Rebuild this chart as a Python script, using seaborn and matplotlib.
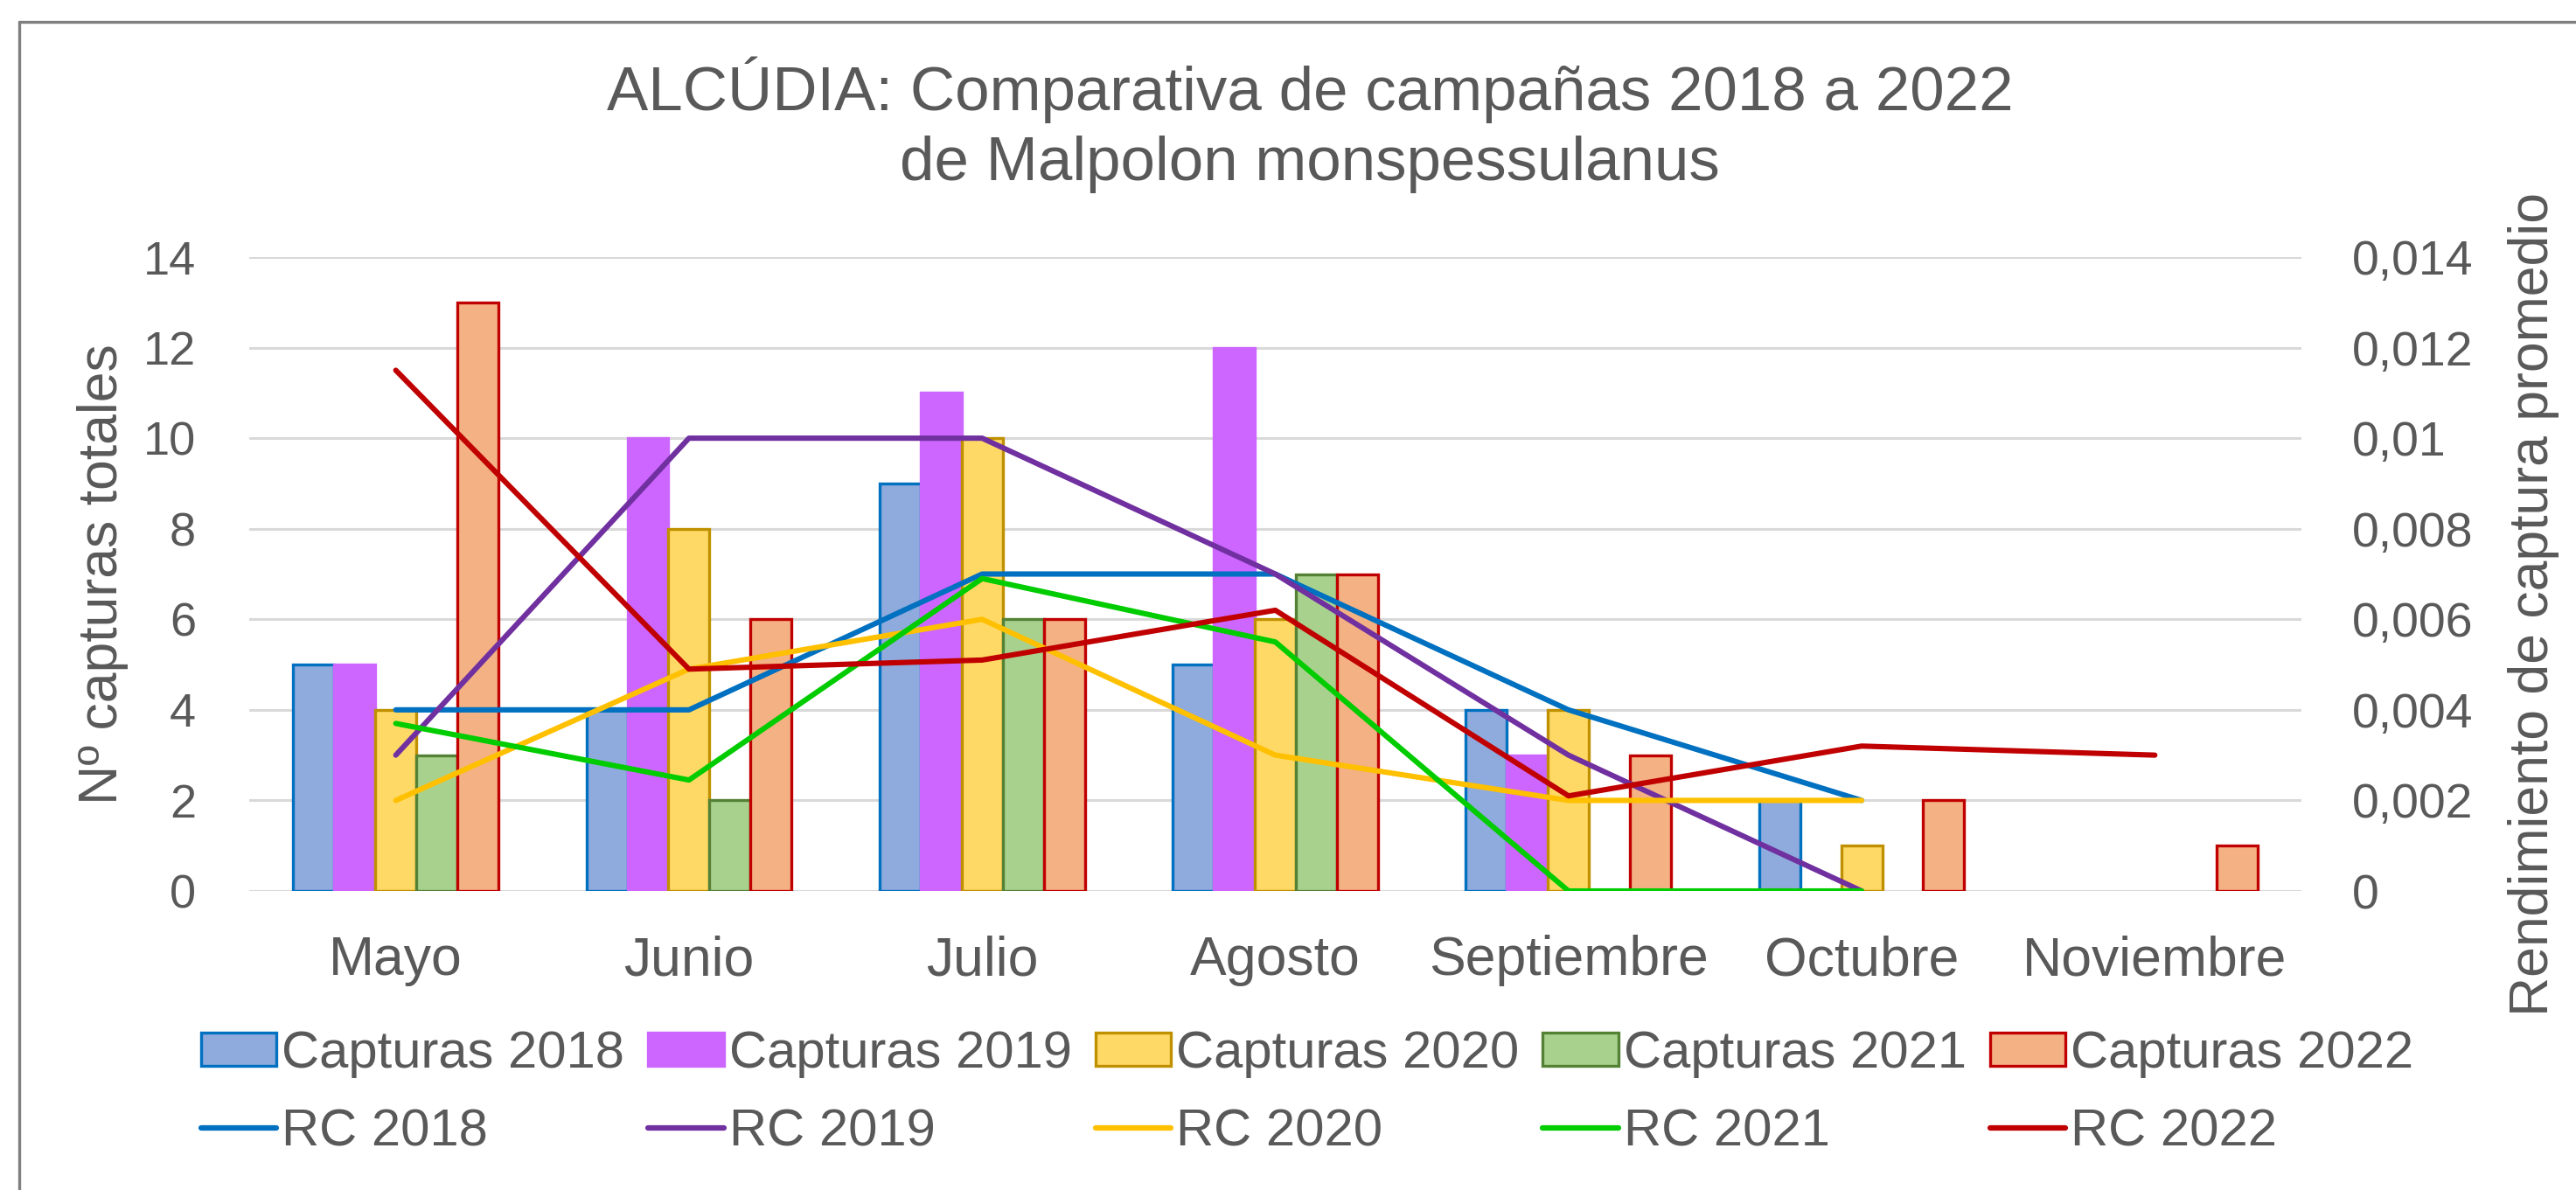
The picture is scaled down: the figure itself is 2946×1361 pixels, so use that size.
import numpy as np
import pandas as pd
import matplotlib
matplotlib.use("Agg")
import matplotlib.pyplot as plt
from matplotlib.patches import Patch
from matplotlib.lines import Line2D
import seaborn as sns

# ---------------- data ----------------
months = ["Mayo", "Junio", "Julio", "Agosto", "Septiembre", "Octubre", "Noviembre"]
years = ["2018", "2019", "2020", "2021", "2022"]

capt_2018 = [5, 4, 9, 5, 4, 2, np.nan]
capt_2019 = [5, 10, 11, 12, 3, np.nan, np.nan]
capt_2020 = [4, 8, 10, 6, 4, 1, np.nan]
capt_2021 = [3, 2, 6, 7, np.nan, np.nan, np.nan]
capt_2022 = [13, 6, 6, 7, 3, 2, 1]

rc_2018 = [0.004, 0.004, 0.007, 0.007, 0.004, 0.002, np.nan]
rc_2019 = [0.003, 0.010, 0.010, 0.007, 0.003, 0.0, np.nan]
rc_2020 = [0.002, 0.0049, 0.006, 0.003, 0.002, 0.002, np.nan]
rc_2021 = [0.0037, 0.00245, 0.0069, 0.0055, 0.0, 0.0, np.nan]
rc_2022 = [0.0115, 0.0049, 0.0051, 0.0062, 0.0021, 0.0032, 0.0030]

left_ticks = [0, 2, 4, 6, 8, 10, 12, 14]
right_ticks = [0, 0.002, 0.004, 0.006, 0.008, 0.010, 0.012, 0.014]
right_tick_labels = ["0", "0,002", "0,004", "0,006", "0,008", "0,01", "0,012", "0,014"]

title_line1 = "ALCÚDIA: Comparativa de campañas 2018 a 2022"
title_line2 = "de Malpolon monspessulanus"
ylabel_left = "Nº capturas totales"
ylabel_right = "Rendimiento de captura promedio"

# ---------------- styles ----------------
bar_fill = ["#8FAADC", "#CC66FF", "#FFD966", "#A9D18E", "#F4B183"]
bar_edge = ["#0070C0", "#CC66FF", "#BF9000", "#548235", "#C00000"]
line_col = ["#0070C0", "#7030A0", "#FFC000", "#00CC00", "#C00000"]
text_col = "#595959"
grid_col = "#D9D9D9"

sns.set_style("white")
plt.rcParams["font.family"] = ["Liberation Sans", "DejaVu Sans"]

capt = [capt_2018, capt_2019, capt_2020, capt_2021, capt_2022]
rcs = [rc_2018, rc_2019, rc_2020, rc_2021, rc_2022]

bar_rows = []
for y, vals in zip(years, capt):
    for m, v in zip(months, vals):
        if not np.isnan(v):
            bar_rows.append({"Mes": m, "Año": y, "Capturas": v})
bar_df = pd.DataFrame(bar_rows)

line_rows = []
for y, vals in zip(years, rcs):
    for i, v in enumerate(vals):
        if not np.isnan(v):
            line_rows.append({"pos": i, "Año": y, "RC": v})
line_df = pd.DataFrame(line_rows)

W, H = 2946, 1361
fig = plt.figure(figsize=(W / 100, H / 100), dpi=100)
fig.patch.set_facecolor("white")

ax_l, ax_r, ax_t, ax_b = 285, 2632, 294, 1019
ax = fig.add_axes([ax_l / W, 1 - ax_b / H, (ax_r - ax_l) / W, (ax_b - ax_t) / H])

sns.barplot(data=bar_df, x="Mes", y="Capturas", hue="Año", order=months,
            hue_order=years, palette=bar_fill, width=0.70, saturation=1,
            legend=False, ax=ax, zorder=2)
for cont, ec in zip(ax.containers, bar_edge):
    for p in cont:
        p.set_edgecolor(ec)
        p.set_linewidth(2.4)

ax.set_ylim(0, 14)
ax.set_xlim(-0.5, 6.5)
ax.set_yticks(left_ticks)
ax.yaxis.grid(True, color=grid_col, linewidth=2.2, zorder=0)
ax.xaxis.grid(False)
ax.set_axisbelow(True)
for s in ax.spines.values():
    s.set_visible(False)
ax.tick_params(axis="y", length=0, labelsize=39, colors=text_col, pad=44)
ax.tick_params(axis="x", length=0, labelsize=45, colors=text_col, pad=36)
ax.set_xlabel("")
ax.set_ylabel(ylabel_left, fontsize=45, color=text_col)
ax.yaxis.set_label_coords((147 - ax_l) / (ax_r - ax_l), 0.50)

ax2 = ax.twinx()
sns.lineplot(data=line_df, x="pos", y="RC", hue="Año", hue_order=years,
             palette=line_col, linewidth=4.4, legend=False, ax=ax2, sort=False)
ax2.set_ylim(0, 0.014)
ax2.set_xlim(-0.5, 6.5)
ax2.set_yticks(right_ticks)
ax2.set_yticklabels(right_tick_labels)
ax2.grid(False)
for s in ax2.spines.values():
    s.set_visible(False)
ax2.tick_params(axis="y", length=0, labelsize=40, colors=text_col, pad=42)
ax2.set_ylabel(ylabel_right, fontsize=45, color=text_col)
ax2.yaxis.set_label_coords((2868 - ax_l) / (ax_r - ax_l), 0.452)
ax2.set_xlabel("")

# title
fig.text(1498 / W, 1 - 103 / H, title_line1, ha="center", va="center",
         fontsize=51, color=text_col)
fig.text(1498 / W, 1 - 188 / H, title_line2, ha="center", va="center",
         fontsize=51, color=text_col)

# legend (bars row, lines row)
handles, labels = [], []
for i, y in enumerate(years):
    handles.append(Patch(facecolor=bar_fill[i], edgecolor=bar_edge[i], linewidth=2.4))
    labels.append(f"Capturas {y}")
    handles.append(Line2D([0], [0], color=line_col[i], linewidth=4.5))
    labels.append(f"RC {y}")
fig.legend(handles, labels, ncol=5, loc="center", bbox_to_anchor=(1495 / W, 1 - 1250 / H),
           frameon=False, fontsize=43, handlelength=1.45, handleheight=0.6,
           handletextpad=0.1, columnspacing=0.45, labelspacing=0.58,
           labelcolor=text_col)

# outer frame
x0, y0 = 22 / W, 1 - 25 / H
fig.add_artist(Line2D([x0, x0], [0, y0], transform=fig.transFigure, color="#7F7F7F", linewidth=2.4))
fig.add_artist(Line2D([x0, 1], [y0, y0], transform=fig.transFigure, color="#7F7F7F", linewidth=2.4))

fig.savefig("out.png", dpi=100, facecolor="white")
